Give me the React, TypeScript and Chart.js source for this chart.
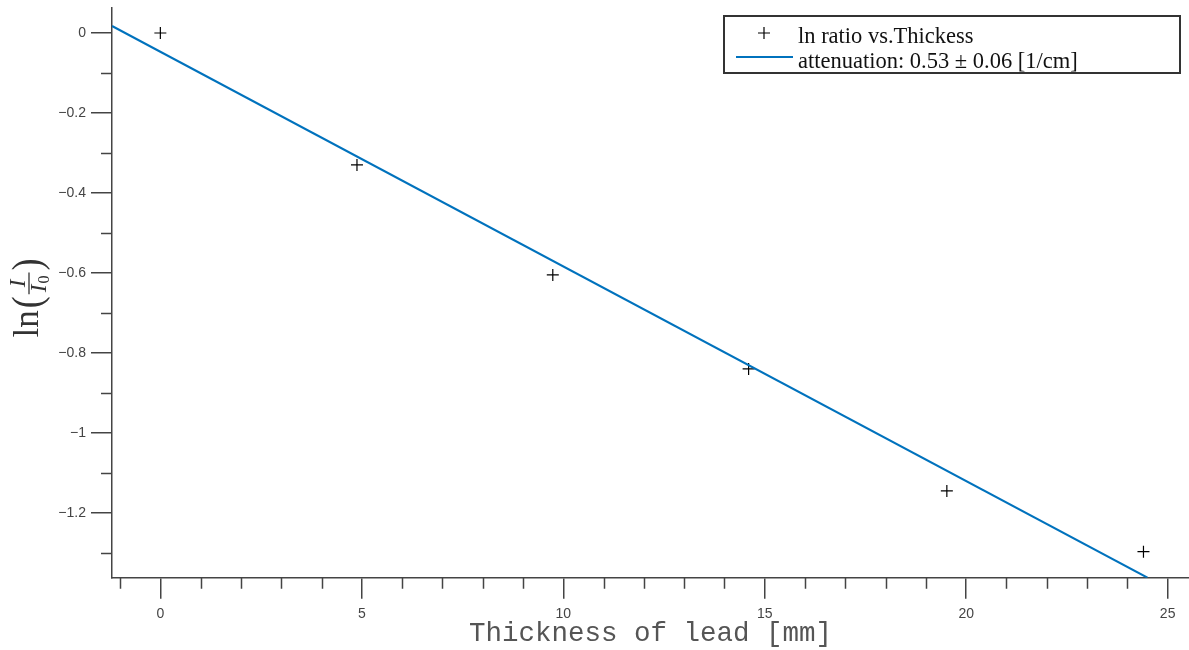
import React, { useEffect, useRef } from "react";
import { Chart, registerables } from "chart.js";

Chart.register(...registerables);

// ---- data ----
const pointX = [0, 4.88, 9.74, 14.6, 19.52, 24.4];
const pointY = [0, -0.33, -0.605, -0.84, -1.145, -1.297];
const fitX = [-1.2, 24.5];
const fitY = [0.0175, -1.362];

const xTickValues = [0, 5, 10, 15, 20, 25];
const xTickLabels = ["0", "5", "10", "15", "20", "25"];
const xMinorTicks = [-1, 1, 2, 3, 4, 6, 7, 8, 9, 11, 12, 13, 14, 16, 17, 18, 19, 21, 22, 23, 24];
const yTickValues = [0, -0.2, -0.4, -0.6, -0.8, -1, -1.2];
const yTickLabels = ["0", "\u22120.2", "\u22120.4", "\u22120.6", "\u22120.8", "\u22121", "\u22121.2"];
const yMinorTicks = [-0.1, -0.3, -0.5, -0.7, -0.9, -1.1, -1.3];

const legendLabels = ["ln ratio vs.Thickess", "attenuation: 0.53 \u00b1 0.06 [1/cm]"];
const xTitle = "Thickness of lead [mm]";

const X_MIN = -1.2;
const X_MAX = 25.53;
const Y_MIN = -1.362;
const Y_MAX = 0.0625;

const AXIS = "#444444";
const LABEL = "#444444";
const BLUE = "#0072BD";
const SERIF = '"Liberation Serif", "Times New Roman", serif';

const zeroPad = (scale: any) => {
  scale.paddingTop = 0;
  scale.paddingBottom = 0;
  scale.paddingLeft = 0;
  scale.paddingRight = 0;
};

const decor = {
  id: "decor",
  afterDraw(chart: any) {
    const { ctx, chartArea, scales } = chart;
    const x = scales.x;
    const y = scales.y;
    ctx.save();
    // minor ticks
    ctx.strokeStyle = AXIS;
    ctx.lineWidth = 1.5;
    ctx.beginPath();
    xMinorTicks.forEach((v) => {
      const px = Math.round(x.getPixelForValue(v)) + 0.5;
      ctx.moveTo(px, chartArea.bottom);
      ctx.lineTo(px, chartArea.bottom + 11);
    });
    yMinorTicks.forEach((v) => {
      const py = Math.round(y.getPixelForValue(v)) + 0.5;
      ctx.moveTo(chartArea.left, py);
      ctx.lineTo(chartArea.left - 11, py);
    });
    ctx.stroke();

    // legend box
    const lx = 724, ly = 16, lw = 456, lh = 57;
    ctx.fillStyle = "#ffffff";
    ctx.fillRect(lx, ly, lw, lh);
    ctx.strokeStyle = "#333333";
    ctx.lineWidth = 2;
    ctx.strokeRect(lx, ly, lw, lh);
    // entry 1 marker
    ctx.strokeStyle = "#000000";
    ctx.lineWidth = 1.2;
    ctx.beginPath();
    ctx.moveTo(758, 33);
    ctx.lineTo(770, 33);
    ctx.moveTo(764, 27);
    ctx.lineTo(764, 39);
    ctx.stroke();
    // entry 2 line
    ctx.strokeStyle = BLUE;
    ctx.lineWidth = 2;
    ctx.beginPath();
    ctx.moveTo(736, 57);
    ctx.lineTo(793, 57);
    ctx.stroke();
    ctx.fillStyle = "#111111";
    ctx.font = "22.5px " + SERIF;
    ctx.textAlign = "left";
    ctx.textBaseline = "alphabetic";
    ctx.fillText(legendLabels[0], 798, 43);
    ctx.fillText(legendLabels[1], 798, 68);

    // y title: ln(I / I0)
    ctx.save();
    ctx.translate(30, 298);
    ctx.rotate(-Math.PI / 2);
    ctx.fillStyle = "#333333";
    ctx.textBaseline = "alphabetic";
    ctx.textAlign = "left";
    const lnFont = "35px " + SERIF;
    const parenFont = "36px " + SERIF;
    const fracFont = "italic 23px " + SERIF;
    const subFont = "16px " + SERIF;
    ctx.font = lnFont;
    const wLn = ctx.measureText("ln").width;
    ctx.font = parenFont;
    const wP = ctx.measureText("(").width;
    ctx.font = fracFont;
    const wI = ctx.measureText("I").width;
    ctx.font = subFont;
    const wSub = ctx.measureText("0").width;
    const wFrac = wI + wSub + 6;
    const total = wLn + 2 + wP + 2 + wFrac + 2 + wP;
    let cx = -total / 2;
    ctx.font = lnFont;
    ctx.fillText("ln", cx, 8);
    cx += wLn + 2;
    // left paren
    ctx.font = parenFont;
    ctx.save();
    ctx.translate(cx, 0);
    ctx.scale(1, 1.15);
    ctx.textBaseline = "middle";
    ctx.fillText("(", 0, 0);
    ctx.restore();
    cx += wP + 2;
    // fraction
    ctx.font = fracFont;
    ctx.fillText("I", cx + (wFrac - wI) / 2, -5);
    ctx.fillText("I", cx + 2, 16);
    ctx.font = subFont;
    ctx.fillText("0", cx + 2 + wI + 1, 19);
    ctx.strokeStyle = "#333333";
    ctx.lineWidth = 1.3;
    ctx.beginPath();
    ctx.moveTo(cx, -1);
    ctx.lineTo(cx + wFrac, -1);
    ctx.stroke();
    cx += wFrac + 2;
    ctx.font = parenFont;
    ctx.save();
    ctx.translate(cx, 0);
    ctx.scale(1, 1.15);
    ctx.textBaseline = "middle";
    ctx.fillText(")", 0, 0);
    ctx.restore();
    ctx.restore();

    ctx.restore();
  },
};

export default function App() {
  const ref = useRef<HTMLCanvasElement | null>(null);
  useEffect(() => {
    if (!ref.current) return;
    const chart = new Chart(ref.current, {
      type: "scatter",
      data: {
        datasets: [
          {
            label: legendLabels[0],
            data: pointX.map((v, i) => ({ x: v, y: pointY[i] })),
            pointStyle: "cross",
            pointRadius: 6,
            pointBorderWidth: 1.2,
            borderColor: "#000000",
            backgroundColor: "#000000",
            showLine: false,
            order: 2,
          },
          {
            label: legendLabels[1],
            data: fitX.map((v, i) => ({ x: v, y: fitY[i] })),
            showLine: true,
            borderColor: BLUE,
            borderWidth: 2,
            pointRadius: 0,
            fill: false,
            order: 1,
          },
        ],
      },
      options: {
        animation: false,
        responsive: false,
        devicePixelRatio: 1,
        layout: { autoPadding: false, padding: { top: 8, left: 0, right: 0, bottom: 0 } },
        plugins: {
          legend: { display: false },
          tooltip: { enabled: false },
          title: { display: false },
        },
        scales: {
          x: {
            type: "linear",
            min: X_MIN,
            max: X_MAX,
            afterBuildTicks: (scale: any) => {
              scale.ticks = xTickValues.map((v) => ({ value: v }));
            },
            afterFit: (scale: any) => {
              scale.height = 72.3;
              zeroPad(scale);
            },
            ticks: {
              color: LABEL,
              font: { family: '"Liberation Sans", Arial, sans-serif', size: 14 },
              padding: 7,
              maxRotation: 0,
              autoSkip: false,
              callback: (value: any) => {
                const i = xTickValues.indexOf(Number(value));
                return i >= 0 ? xTickLabels[i] : "";
              },
            },
            grid: {
              display: true,
              drawOnChartArea: false,
              drawTicks: true,
              tickLength: 21,
              color: AXIS,
              lineWidth: 1.5,
            },
            border: { display: true, color: AXIS, width: 1.5 },
            title: {
              display: true,
              text: xTitle,
              color: "#555555",
              font: { family: '"Liberation Mono", "Courier New", monospace', size: 27.5 },
              padding: { top: 0, bottom: 0 },
            },
          },
          y: {
            type: "linear",
            min: Y_MIN,
            max: Y_MAX,
            afterBuildTicks: (scale: any) => {
              scale.ticks = yTickValues.map((v) => ({ value: v }));
            },
            afterFit: (scale: any) => {
              scale.width = 112;
              zeroPad(scale);
            },
            ticks: {
              color: LABEL,
              font: { family: '"Liberation Sans", Arial, sans-serif', size: 14 },
              padding: 5,
              autoSkip: false,
              callback: (value: any) => {
                let i = -1;
                yTickValues.forEach((v, k) => {
                  if (Math.abs(v - Number(value)) < 1e-9) i = k;
                });
                return i >= 0 ? yTickLabels[i] : "";
              },
            },
            grid: {
              display: true,
              drawOnChartArea: false,
              drawTicks: true,
              tickLength: 21,
              color: AXIS,
              lineWidth: 1.5,
            },
            border: { display: true, color: AXIS, width: 1.5 },
          },
        },
      },
      plugins: [decor],
    } as any);
    return () => chart.destroy();
  }, []);

  return (
    <div style={{ position: "fixed", left: 0, top: 0, width: 1189, height: 650, background: "#fff" }}>
      <canvas ref={ref} width={1189} height={650} style={{ width: 1189, height: 650, display: "block" }} />
    </div>
  );
}
